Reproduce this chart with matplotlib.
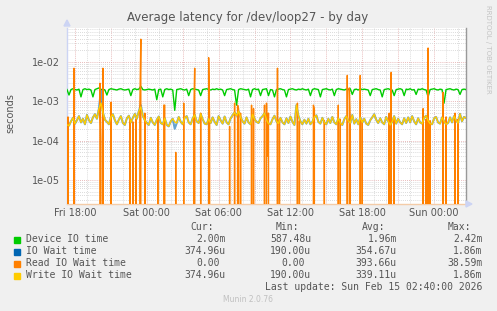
import numpy as np
import matplotlib
matplotlib.use("Agg")
import matplotlib.pyplot as plt
from matplotlib.patches import Rectangle, Polygon
from matplotlib.ticker import FixedLocator, FixedFormatter, LogLocator, NullFormatter

# time axis in hours since Fri 00:00, graph covers Fri 17:20 .. Sun 02:40
t_start = 17 + 20 / 60
t_end = 50 + 40 / 60

# device IO time in ms, one value per 10 minutes
device_io_ms = [
    2.0, 1.45, 2.0, 2.1, 2.0, 1.95, 2.05, 1.3, 2.0, 2.1, 2.0, 2.05,
    1.95, 1.3, 2.0, 2.1, 2.2, 2.0, 2.05, 1.95, 1.45, 2.0, 2.1, 2.05,
    2.0, 1.95, 2.05, 2.1, 2.0, 1.95, 2.0, 2.05, 1.4, 2.0, 2.1, 2.0,
    2.05, 2.42, 2.0, 1.95, 2.0, 2.05, 2.0, 1.95, 2.05, 1.1, 2.0, 2.05,
    1.3, 2.0, 2.1, 2.0, 2.05, 1.95, 0.59, 2.0, 2.05, 2.1, 2.0, 1.95,
    2.05, 1.4, 2.0, 2.1, 2.05, 2.0, 1.95, 1.4, 2.0, 2.05, 2.1, 2.0,
    1.95, 2.05, 2.0, 2.1, 2.0, 2.05, 1.95, 1.4, 2.0, 2.05, 2.1, 2.0,
    1.95, 0.8, 2.0, 2.1, 2.05, 2.0, 1.95, 2.05, 1.3, 2.0, 2.1, 2.0,
    2.05, 1.4, 2.0, 2.05, 2.1, 1.4, 2.0, 1.95, 1.3, 2.0, 2.05, 2.1,
    2.0, 1.95, 1.3, 2.0, 2.05, 2.1, 2.0, 1.95, 2.05, 2.0, 2.1, 2.0,
    1.95, 2.05, 1.4, 2.0, 2.1, 2.05, 2.0, 1.3, 2.0, 2.05, 2.1, 2.0,
    1.95, 2.05, 1.4, 2.0, 2.1, 2.05, 2.0, 1.95, 2.05, 2.0, 2.1, 1.5,
    2.0, 2.05, 1.95, 2.1, 2.0, 2.05, 2.0, 1.95, 1.4, 2.0, 2.05, 2.1,
    2.0, 1.95, 1.3, 2.0, 2.05, 2.1, 2.0, 1.95, 1.4, 2.0, 2.05, 2.1,
    2.0, 1.4, 2.05, 2.0, 2.1, 1.95, 2.0, 1.5, 2.05, 2.0, 2.1, 2.0,
    1.95, 1.3, 2.0, 2.05, 2.1, 2.0, 1.95, 2.05, 2.0, 0.9, 2.0, 2.05,
    2.1, 2.0, 1.95, 2.05, 2.0, 1.5, 2.0, 2.05, 2.0,
]

# write IO wait time in us, one value per 10 minutes
write_wait_us = [
    250, 240, 310, 380, 270, 330, 420, 290, 360, 260, 450, 330,
    280, 390, 470, 360, 650, 900, 520, 340, 300, 260, 400, 470,
    330, 260, 340, 420, 280, 250, 370, 430, 290, 380, 480, 360,
    560, 720, 430, 330, 280, 250, 380, 290, 250, 340, 410, 280,
    260, 370, 250, 230, 310, 360, 300, 280, 400, 300, 260, 380,
    420, 290, 260, 370, 450, 310, 280, 480, 350, 270, 260, 360,
    280, 390, 300, 250, 420, 330, 270, 410, 290, 260, 370, 440,
    520, 430, 560, 400, 310, 270, 390, 290, 260, 470, 350, 300,
    280, 370, 420, 500, 340, 270, 260, 350, 430, 310, 270, 380,
    290, 260, 370, 280, 410, 300, 250, 800, 430, 310, 260, 340,
    270, 360, 260, 300, 400, 440, 300, 270, 380, 290, 260, 360,
    280, 400, 290, 260, 370, 280, 250, 350, 420, 320, 280, 450,
    270, 350, 260, 390, 290, 360, 270, 250, 330, 390, 470, 340,
    280, 370, 290, 260, 400, 310, 250, 300, 420, 270, 360, 290,
    260, 370, 280, 390, 290, 420, 310, 260, 370, 290, 270, 380,
    430, 320, 270, 260, 370, 400, 290, 270, 390, 310, 260, 280,
    390, 290, 420, 330, 280, 480, 310, 400, 375,
]

# IO wait differs from write wait only at these 10-minute slots (us)
io_wait_diff_us = {54: 200, 17: 1860, 37: 800}

# read IO wait: zero except these samples (hour, seconds)
read_spikes = [
    (17.42, 4.0e-4), (17.92, 7.0e-3), (20.08, 2.9e-3), (20.17, 1.1e-4),
    (20.33, 7.0e-3), (21.0, 9.5e-4), (22.58, 3.5e-4), (22.83, 3.0e-4),
    (23.08, 3.5e-4), (23.42, 6.5e-4), (23.5, 3.859e-2), (23.83, 5.0e-4),
    (24.92, 3.5e-4), (25.42, 8.0e-4), (25.5, 8.0e-4), (26.42, 5.0e-5),
    (27.08, 9.0e-4), (27.92, 3.2e-4), (28.0, 7.0e-3), (28.5, 5.0e-4),
    (29.17, 1.3e-2), (29.25, 3.2e-4), (30.92, 2.3e-4), (31.33, 9.0e-4),
    (31.58, 8.0e-4), (31.67, 6.5e-4), (31.83, 5.0e-4), (32.75, 8.0e-4),
    (32.92, 6.5e-4), (33.83, 8.0e-4), (34.0, 9.0e-4), (34.08, 4.0e-5),
    (34.17, 5.0e-4), (34.92, 7.0e-3), (35.08, 3.5e-4), (36.58, 9.0e-4),
    (36.75, 3.2e-4), (37.92, 8.0e-4), (38.0, 6.5e-4), (38.83, 3.2e-4),
    (40.0, 8.0e-4), (40.17, 3.5e-4), (40.75, 4.6e-3), (40.92, 2.2e-3),
    (41.0, 3.2e-4), (41.83, 4.6e-3), (42.0, 3.2e-4), (44.25, 5.0e-4),
    (44.42, 5.5e-3), (44.67, 3.5e-4), (47.08, 6.5e-4), (47.33, 3.5e-4),
    (47.5, 2.3e-2), (47.67, 3.2e-4), (48.75, 1.7e-3), (49.0, 4.0e-4),
    (49.75, 5.0e-4), (50.0, 3.5e-4),
]

tick_hours = [18, 21, 24, 27, 30, 33, 36, 39, 42, 45, 48]
tick_names = {18: "Fri 18:00", 24: "Sat 00:00", 30: "Sat 06:00",
              36: "Sat 12:00", 42: "Sat 18:00", 48: "Sun 00:00"}
y_ticks = [1e-5, 1e-4, 1e-3, 1e-2]
y_tick_labels = ["1e-05", "1e-04", "1e-03", "1e-02"]

legend_names = ["Device IO time", "IO Wait time", "Read IO Wait time", "Write IO Wait time"]
legend_colors = ["#00cc00", "#0066b3", "#ff8000", "#ffcc00"]
cur_vals = ["2.00m", "374.96u", "0.00", "374.96u"]
min_vals = ["587.48u", "190.00u", "0.00", "190.00u"]
avg_vals = ["1.96m", "354.67u", "393.66u", "339.11u"]
max_vals = ["2.42m", "1.86m", "38.59m", "1.86m"]

W, H = 497, 311
fig = plt.figure(figsize=(W / 100, H / 100), dpi=100, facecolor="#f0f0f0")


def fx(px):
    return px / W


def fy(py):
    return 1 - py / H


ax = fig.add_axes([fx(67), fy(204), fx(466) - fx(67), fy(28) - fy(204)])
ax.set_facecolor("white")

t10 = t_start + np.arange(len(device_io_ms)) / 6
device = np.array(device_io_ms) * 1e-3
write = np.array(write_wait_us, dtype=float) * 1e-6
io_wait = write.copy()
for i, v in io_wait_diff_us.items():
    io_wait[i] = v * 1e-6

t5 = t_start + np.arange(401) / 12
read = np.zeros(401)
for h, v in read_spikes:
    read[int(round((h - t_start) * 12))] = v

ax.set_yscale("log", nonpositive="clip")
ax.plot(t10, device, color=legend_colors[0], lw=1.0, zorder=3)
ax.plot(t10, io_wait, color=legend_colors[1], lw=1.5, alpha=0.6, zorder=3)
ax.plot(t5, read, color=legend_colors[2], lw=1.0, zorder=3)
ax.plot(t10, write, color=legend_colors[3], lw=1.0, zorder=3)

ax.set_xlim(t_start, t_end)
ax.set_ylim(2.4e-6, 7.45e-2)

ax.xaxis.set_major_locator(FixedLocator(tick_hours))
ax.xaxis.set_major_formatter(FixedFormatter([tick_names.get(h, "") for h in tick_hours]))
ax.xaxis.set_minor_locator(FixedLocator(np.arange(18, 51)))
ax.yaxis.set_major_locator(FixedLocator(y_ticks))
ax.yaxis.set_major_formatter(FixedFormatter(y_tick_labels))
ax.yaxis.set_minor_locator(LogLocator(base=10, subs=np.arange(2, 10), numticks=20))
ax.yaxis.set_minor_formatter(NullFormatter())

ax.set_axisbelow(True)
ax.grid(which="minor", color="#cfcfcf", lw=0.6, linestyle=(0, (1, 1.5)))
ax.grid(which="major", color="#e2a4a4", lw=0.6, linestyle=(0, (1, 1.5)))
ax.tick_params(which="both", length=0)
ax.tick_params(axis="x", labelsize=7, labelcolor="#555555", pad=3)
ax.tick_params(axis="y", labelsize=7, labelcolor="#555555", pad=5)

ax.spines["top"].set_visible(False)
ax.spines["left"].set_color("#ccd4f4")
ax.spines["bottom"].set_color("#f4cca8")
ax.spines["right"].set_color("#999999")
for s in ["left", "bottom", "right"]:
    ax.spines[s].set_linewidth(1.0)

# axis arrows
fig.patches.append(Polygon([[fx(64), fy(26)], [fx(70), fy(26)], [fx(67), fy(20)]],
                           closed=True, color="#ccd4f4", transform=fig.transFigure))
fig.patches.append(Polygon([[fx(466), fy(201)], [fx(466), fy(207)], [fx(472), fy(204)]],
                           closed=True, color="#ccd4f4", transform=fig.transFigure))

fig.text(fx(248), fy(18), "Average latency for /dev/loop27 - by day", ha="center",
         va="center", fontsize=8.5, color="#555555")
fig.text(fx(10), fy(113), "seconds", rotation=90, ha="center", va="center",
         fontsize=7, color="#555555")
fig.text(fx(488), fy(5), "RRDTOOL / TOBI OETIKER", rotation=270, ha="center",
         va="top", fontsize=5, color="#c4c4c4")

mono = "DejaVu Sans Mono"
fs = 7
tc = "#555555"
char_w = 5.94
col_edges = [225.5, 311.3, 396.9, 482.6]
for x, lab in zip(col_edges, ["Cur:", "Min:", "Avg:", "Max:"]):
    fig.text(fx(x - 2 * char_w), fy(227.5), lab, ha="right", va="center",
             family=mono, fontsize=fs, color=tc)

row_y = [239.5, 251.5, 263.5, 275.5]
for i, name in enumerate(legend_names):
    y = row_y[i]
    fig.patches.append(Rectangle((fx(14), fy(y + 3)), fx(6), 6 / H,
                                 color=legend_colors[i], transform=fig.transFigure))
    fig.text(fx(26), fy(y), name, ha="left", va="center", family=mono,
             fontsize=fs, color=tc)
    for x, vals in zip(col_edges, [cur_vals, min_vals, avg_vals, max_vals]):
        v = vals[i]
        xe = x if v[-1].isalpha() else x - char_w
        fig.text(fx(xe), fy(y), v, ha="right", va="center", family=mono,
                 fontsize=fs, color=tc)

fig.text(fx(482.6), fy(287.5), "Last update: Sun Feb 15 02:40:00 2026", ha="right",
         va="center", family=mono, fontsize=fs, color=tc)
fig.text(fx(248), fy(300), "Munin 2.0.76", ha="center", va="center",
         fontsize=5.5, color="#c0c0c0")

fig.savefig("out.png", dpi=100, facecolor=fig.get_facecolor())
